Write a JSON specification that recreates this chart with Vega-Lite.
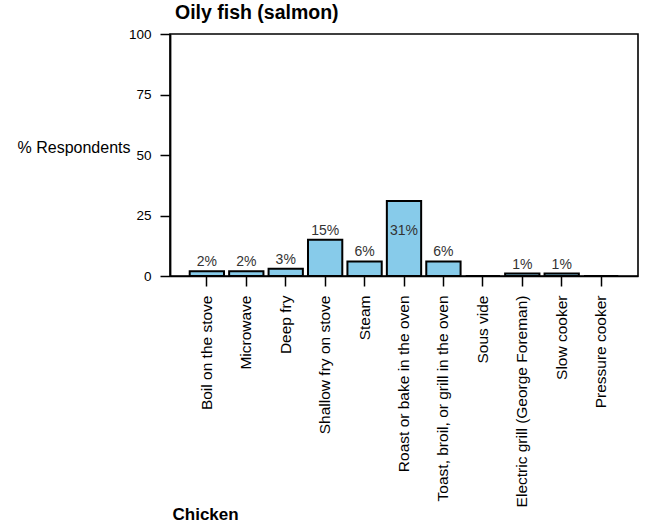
{
  "$schema": "https://vega.github.io/schema/vega-lite/v6.json",
  "width": 468,
  "height": 242,
  "padding": {"left": 17, "top": 2, "right": 5, "bottom": 5},
  "background": "white",
  "config": {
    "font": "Liberation Sans",
    "view": {"stroke": "black", "strokeWidth": 1.6}
  },
  "title": {
    "text": "Oily fish (salmon)",
    "anchor": "start",
    "frame": "group",
    "dx": 5,
    "fontSize": 19.5,
    "fontWeight": "bold",
    "color": "black",
    "offset": 4
  },
  "data": {
    "values": [
      {"method": "Boil on the stove", "pct": 2},
      {"method": "Microwave", "pct": 2},
      {"method": "Deep fry", "pct": 3},
      {"method": "Shallow fry on stove", "pct": 15},
      {"method": "Steam", "pct": 6},
      {"method": "Roast or bake in the oven", "pct": 31},
      {"method": "Toast, broil, or grill in the oven", "pct": 6},
      {"method": "Sous vide", "pct": 0},
      {"method": "Electric grill (George Foreman)", "pct": 1},
      {"method": "Slow cooker", "pct": 1},
      {"method": "Pressure cooker", "pct": 0}
    ]
  },
  "encoding": {
    "x": {
      "field": "method",
      "type": "nominal",
      "sort": null,
      "scale": {"paddingInner": 0.13, "paddingOuter": 0.5},
      "axis": {
        "title": "Chicken",
        "titleAnchor": "start",
        "titleAlign": "left",
        "titleX": 2,
        "titleY": 238,
        "titleBaseline": "middle",
        "titleFontSize": 17,
        "titleFontWeight": "bold",
        "titleColor": "black",
        "labelAngle": -90,
        "labelFontSize": 15.5,
        "labelColor": "black",
        "labelPadding": 9,
        "labelLimit": 300,
        "tickSize": 10,
        "tickColor": "black",
        "tickWidth": 1.5,
        "domainColor": "black",
        "domainWidth": 1.6
      }
    },
    "y": {
      "field": "pct",
      "type": "quantitative",
      "scale": {"domain": [0, 100]},
      "axis": {
        "values": [0, 25, 50, 75, 100],
        "grid": false,
        "title": "% Respondents",
        "titleAngle": 0,
        "titleAlign": "right",
        "titleBaseline": "middle",
        "titleX": -40,
        "titleY": 113,
        "titleFontSize": 16,
        "titleFontWeight": "normal",
        "titleColor": "black",
        "labelFontSize": 13.5,
        "labelColor": "black",
        "labelPadding": 9,
        "tickSize": 10,
        "tickColor": "black",
        "tickWidth": 1.5,
        "domainColor": "black",
        "domainWidth": 1.8
      }
    }
  },
  "layer": [
    {
      "mark": {"type": "bar", "fill": "#87CBEA", "stroke": "black", "strokeWidth": 2}
    },
    {
      "transform": [
        {"filter": "datum.pct > 0"},
        {"calculate": "datum.pct + '%'", "as": "label"},
        {"calculate": "min(datum.pct, 15)", "as": "labelpos"}
      ],
      "mark": {"type": "text", "baseline": "bottom", "dy": -2, "fontSize": 14, "color": "#333333"},
      "encoding": {
        "y": {"field": "labelpos", "type": "quantitative"},
        "text": {"field": "label"}
      }
    }
  ]
}
